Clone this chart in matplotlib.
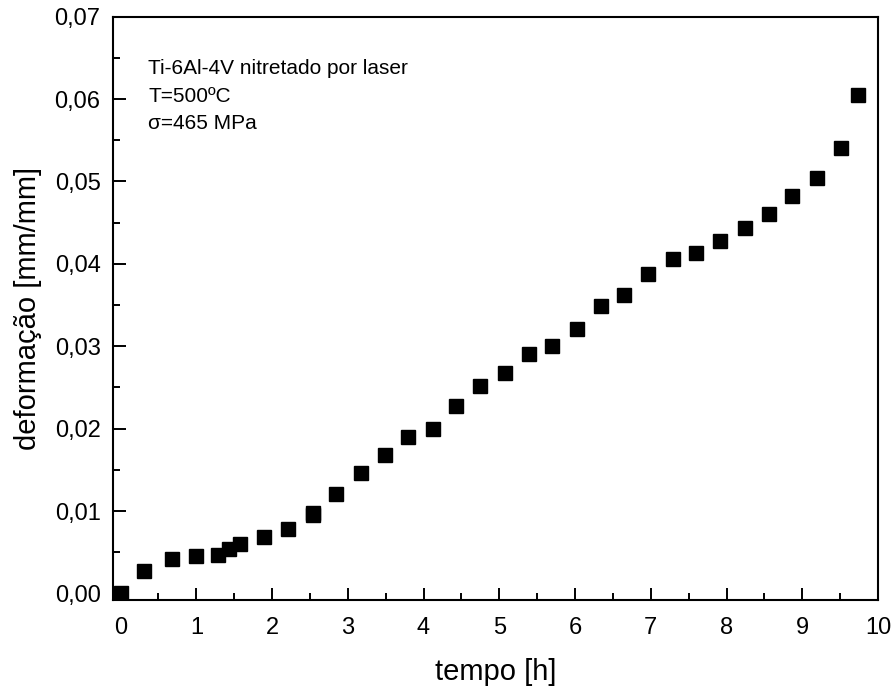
import matplotlib.pyplot as plt
from matplotlib.ticker import MultipleLocator, FuncFormatter

plt.rcParams['font.family'] = ['Liberation Sans', 'DejaVu Sans']

# Fluência - Ti-6Al-4V nitretado por laser
tempo = [0.00, 0.31, 0.68, 0.99, 1.29, 1.43, 1.58, 1.90, 2.21, 2.54, 2.54,
         2.85, 3.17, 3.49, 3.80, 4.12, 4.43, 4.75, 5.07, 5.39, 5.70, 6.02,
         6.34, 6.65, 6.97, 7.29, 7.60, 7.92, 8.24, 8.56, 8.87, 9.19, 9.51, 9.74]
deformacao = [0.0000, 0.0027, 0.0042, 0.0046, 0.0047, 0.0054, 0.0060, 0.0068,
              0.0078, 0.0095, 0.0098, 0.0121, 0.0146, 0.0168, 0.0190, 0.0200,
              0.0227, 0.0252, 0.0267, 0.0291, 0.0300, 0.0321, 0.0349, 0.0362,
              0.0388, 0.0406, 0.0413, 0.0428, 0.0444, 0.0460, 0.0482, 0.0504,
              0.0541, 0.0605]
legenda = ["Ti-6Al-4V nitretado por laser", "T=500ºC", "σ=465 MPa"]

fig = plt.figure(figsize=(8.94, 6.9), dpi=100)
ax = fig.add_axes([0.1264, 0.1304, 0.8557, 0.8454])

ax.plot(tempo, deformacao, 's', color='black', markersize=9.5)

ax.set_xlim(-0.1, 10)
ax.set_ylim(-0.0008, 0.07)
ax.xaxis.set_major_locator(MultipleLocator(1))
ax.xaxis.set_minor_locator(MultipleLocator(0.5))
ax.yaxis.set_major_locator(MultipleLocator(0.01))
ax.yaxis.set_minor_locator(MultipleLocator(0.005))
ax.yaxis.set_major_formatter(FuncFormatter(lambda v, p: f"{v:.2f}".replace('.', ',')))

ax.tick_params(which='both', direction='in', width=1.4, labelsize=17)
ax.tick_params(which='major', length=9)
ax.tick_params(which='minor', length=4.8)
ax.tick_params(axis='x', pad=12)
ax.tick_params(axis='y', pad=9)
for s in ax.spines.values():
    s.set_linewidth(1.5)

ax.set_xlabel("tempo [h]", fontsize=21, labelpad=14)
ax.set_ylabel("deformação [mm/mm]", fontsize=21, labelpad=9)

for i, linha in enumerate(legenda):
    ax.text(0.046, 0.911 - i * 0.047, linha, transform=ax.transAxes,
            fontsize=15, va='center', ha='left')

fig.savefig("out.png", dpi=100)
